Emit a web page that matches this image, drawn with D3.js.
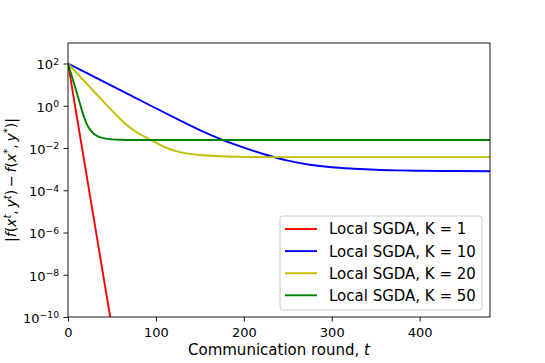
<!DOCTYPE html>
<html><head><meta charset="utf-8">
<script src="https://cdn.jsdelivr.net/npm/d3@7"></script>
<style>body{margin:0;background:#fff}svg{display:block}text{font-family:"DejaVu Sans",sans-serif}</style>
</head><body><svg id="c" width="545" height="363"></svg>
<script>
const seriesNames = ["Local SGDA, K = 1","Local SGDA, K = 10","Local SGDA, K = 20","Local SGDA, K = 50"];
const seriesColors = ["#ff0000","#0000ff","#bfbf00","#008000"];
const tK1 = [0,10,20,30,40,50];
const vK1 = [100,0.316,1e-3,3.16e-6,1e-8,3.16e-11];
const tK10 = [0,25,50,75,100,125,150,175,200,225,250,275,300,325,350,375,400,440,480];
const vK10 = [100,29.5,8.7,2.57,0.76,0.229,0.0708,0.0251,0.0105,0.00479,0.00251,0.00162,0.00123,0.00105,0.000933,0.000871,0.000832,0.000813,0.000794];
const tK20 = [0,10,20,30,40,50,60,70,80,90,100,110,120,130,140,150,165,180,200,230,260,300,480];
const vK20 = [100,35.5,12.6,4.57,1.62,0.589,0.224,0.0955,0.0501,0.0295,0.0178,0.011,0.00776,0.00603,0.00513,0.00468,0.00427,0.00398,0.0038,0.00372,0.00372,0.00372,0.00372];
const tK50 = [0,3,6,9,12,15,18,21,24,27,30,33,36,40,45,50,60,75,100,480];
const vK50 = [100,38.9,14.8,5.75,2.14,0.794,0.316,0.148,0.0871,0.0589,0.0447,0.0372,0.0324,0.0295,0.0269,0.0257,0.0245,0.024,0.024,0.024];
const xTicks = [0,100,200,300,400];
const yTickExps = [2,0,-2,-4,-6,-8,-10];

const series = [[tK1,vK1],[tK10,vK10],[tK20,vK20],[tK50,vK50]];
const svg = d3.select("#c");
const L=68, R=490, T=43, B=317;
const x = d3.scaleLinear().domain([0,480]).range([L,R]);
const y = d3.scaleLog().domain([1e-10,935]).range([B,T]);

svg.append("defs").append("clipPath").attr("id","clip")
  .append("rect").attr("x",L).attr("y",T).attr("width",R-L).attr("height",B-T);

const line = d3.line().x(d=>x(d[0])).y(d=>y(d[1])).curve(d3.curveMonotoneX);
const g = svg.append("g").attr("clip-path","url(#clip)");
series.forEach((s,i)=>{
  const pts = s[0].map((t,j)=>[t,s[1][j]]);
  g.append("path").attr("d",line(pts)).attr("fill","none")
   .attr("stroke",seriesColors[i]).attr("stroke-width",1.9);
});

// axes
const xa = svg.append("g").attr("transform",`translate(0,${B})`)
  .call(d3.axisBottom(x).tickValues(xTicks).tickSize(4.5).tickPadding(3).tickFormat(d3.format("d")));
const ya = svg.append("g").attr("transform",`translate(${L},0)`)
  .call(d3.axisLeft(y).tickValues(yTickExps.map(e=>Math.pow(10,e))).tickSize(4.5).tickPadding(3).tickFormat(""));
[xa,ya].forEach(a=>{a.select(".domain").remove();a.selectAll("line").attr("stroke","#000").attr("stroke-width",0.9);a.selectAll("text").attr("font-size",13).attr("fill","#000").attr("font-family","DejaVu Sans");});
xa.selectAll("text").attr("y",20).attr("dy","0");
ya.selectAll(".tick").each(function(d){
  const e = Math.round(Math.log10(d));
  const t = d3.select(this).append("text").attr("x",-9).attr("y",0).attr("dy","0.42em")
    .attr("text-anchor","end").attr("font-size",13).attr("fill","#000");
  t.append("tspan").text("10");
  t.append("tspan").attr("dy","-0.5em").attr("font-size",9.2).text(String(e).replace("-","\u2212"));
});
svg.append("rect").attr("x",L).attr("y",T).attr("width",R-L).attr("height",B-T)
  .attr("fill","none").attr("stroke","#000").attr("stroke-width",0.9);

// x label
const xl = svg.append("text").attr("x",(L+R)/2).attr("y",355).attr("text-anchor","middle").attr("font-size",15);
xl.append("tspan").text("Communication round, ");
xl.append("tspan").attr("font-style","italic").text("t");

// y label
const yl = svg.append("text").attr("transform",`translate(15.5,${(T+B)/2}) rotate(-90)`).attr("text-anchor","middle").attr("font-size",14);
const parts = [["|",0],["f","i"],["(",0],["x","i"],["t","s"],[",\u2009",0],["y","i"],["t","s"],[")\u2009\u2212\u2009",0],["f","i"],["(",0],["x","i"],["*","s"],[",\u2009",0],["y","i"],["*","s"],[")|",0]];
let up=false;
parts.forEach(p=>{
  const ts = yl.append("tspan").text(p[0]);
  if(p[1]==="i") ts.attr("font-style","italic");
  if(p[1]==="s"){ts.attr("font-size",10).attr("font-style","italic").attr("dy", "-0.5em"); up=true;}
  else if(up){ts.attr("dy","0.357em"); up=false;}
});

// legend
const lg = svg.append("g");
lg.append("rect").attr("x",280).attr("y",216).attr("width",202).attr("height",94).attr("rx",3)
  .attr("fill","#fff").attr("fill-opacity",0.8).attr("stroke","#cccccc").attr("stroke-width",1);
seriesNames.forEach((n,i)=>{
  const yy = 229+i*22.1;
  lg.append("line").attr("x1",285).attr("x2",317).attr("y1",yy).attr("y2",yy).attr("stroke",seriesColors[i]).attr("stroke-width",1.9);
  lg.append("text").attr("x",329).attr("y",yy).attr("dy","0.36em").attr("font-size",15).text(n);
});
</script></body></html>
